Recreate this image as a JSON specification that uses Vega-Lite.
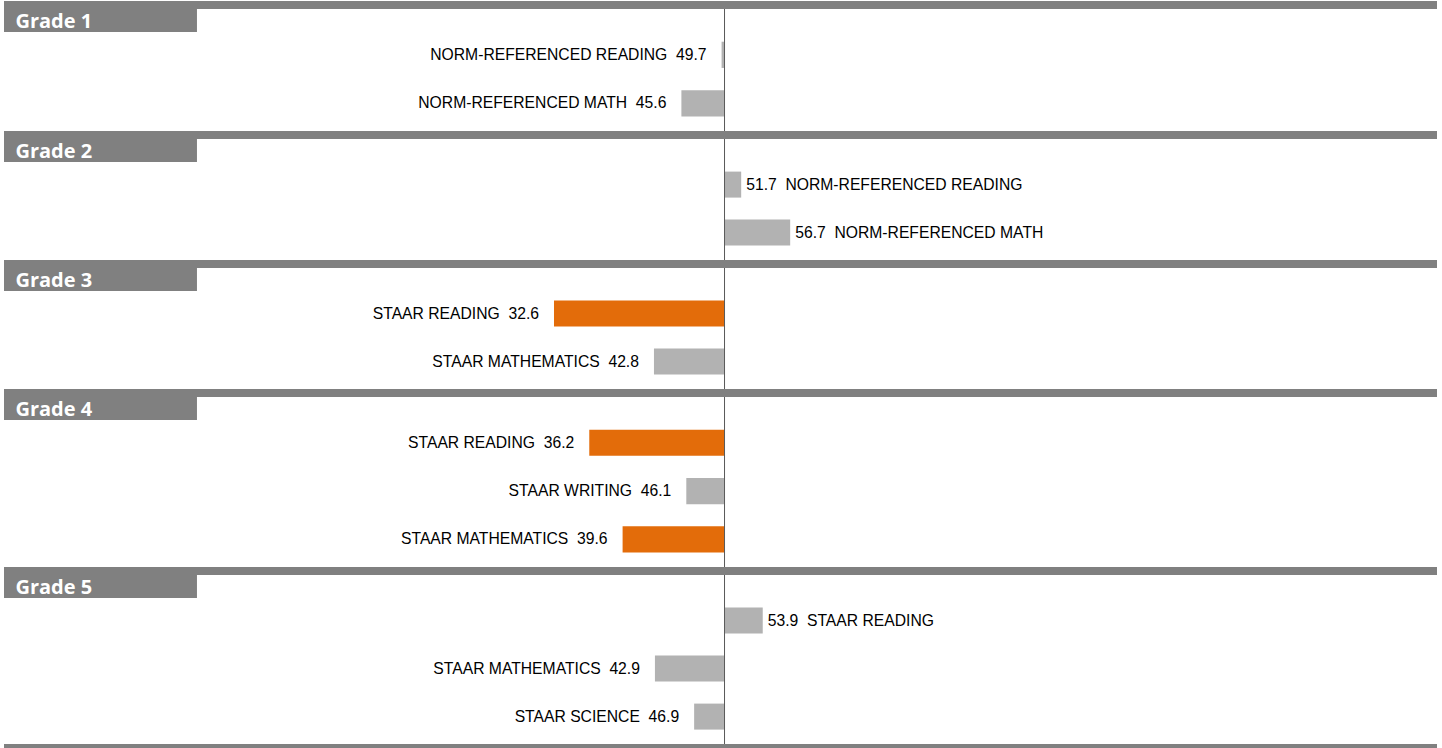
{
  "$schema": "https://vega.github.io/schema/vega-lite/v6.json",
  "background": "white",
  "padding": {"left": 4, "top": 1, "right": 0, "bottom": 0},
  "bounds": "flush",
  "spacing": 0,
  "config": {"view": {"stroke": null}},
  "datasets": {
    "grades": [
      {"grade": "Grade 1"}, {"grade": "Grade 2"}, {"grade": "Grade 3"}, {"grade": "Grade 4"}, {"grade": "Grade 5"}
    ],
    "scores": [
      {"grade": "Grade 1", "subject": "NORM-REFERENCED READING", "value": 49.7},
      {"grade": "Grade 1", "subject": "NORM-REFERENCED MATH", "value": 45.6},
      {"grade": "Grade 2", "subject": "NORM-REFERENCED READING", "value": 51.7},
      {"grade": "Grade 2", "subject": "NORM-REFERENCED MATH", "value": 56.7},
      {"grade": "Grade 3", "subject": "STAAR READING", "value": 32.6},
      {"grade": "Grade 3", "subject": "STAAR MATHEMATICS", "value": 42.8},
      {"grade": "Grade 4", "subject": "STAAR READING", "value": 36.2},
      {"grade": "Grade 4", "subject": "STAAR WRITING", "value": 46.1},
      {"grade": "Grade 4", "subject": "STAAR MATHEMATICS", "value": 39.6},
      {"grade": "Grade 5", "subject": "STAAR READING", "value": 53.9},
      {"grade": "Grade 5", "subject": "STAAR MATHEMATICS", "value": 42.9},
      {"grade": "Grade 5", "subject": "STAAR SCIENCE", "value": 46.9}
    ]
  },
  "resolve": {"scale": {"x": "independent", "y": "independent"}},
  "vconcat": [
    {"width": 1433, "height": 8, "data": {"name": "grades"}, "transform": [{"filter": "datum.grade == 'Grade 1'"}], "mark": {"type": "rect", "color": "#808080"}, "encoding": {}},
    {"width": 1433, "height": 23, "data": {"name": "grades"}, "transform": [{"filter": "datum.grade == 'Grade 1'"}],
      "layer": [
        {"mark": {"type": "rect", "color": "#808080"}, "encoding": {"x": {"datum": -23.52, "type": "quantitative", "scale": {"domain": [-23.52, 122.7], "nice": false, "zero": false}, "axis": null}, "x2": {"datum": -3.83}}},
        {"mark": {"type": "rule", "color": "#595959", "strokeWidth": 1}, "encoding": {"x": {"datum": 50, "type": "quantitative", "scale": {"domain": [-23.52, 122.7], "nice": false, "zero": false}, "axis": null}}},
        {"mark": {"type": "text", "align": "left", "baseline": "middle", "dy": 1, "font": "Open Sans", "fontWeight": "bold", "fontSize": 20, "color": "#ffffff"}, "encoding": {"x": {"datum": -22.35, "type": "quantitative", "scale": {"domain": [-23.52, 122.7], "nice": false, "zero": false}, "axis": null}, "text": {"field": "grade"}}}
      ]},
    {"width": 1433, "height": 99, "data": {"name": "scores"},
      "transform": [{"filter": "datum.grade == 'Grade 1'"},
        {"calculate": "datum.subject + '\u00a0\u00a0' + format(datum.value, '.1f')", "as": "labelL"},
        {"calculate": "format(datum.value, '.1f') + '\u00a0\u00a0' + datum.subject", "as": "labelR"}],
      "layer": [
        {"mark": {"type": "bar"}, "encoding": {
          "y": {"field": "subject", "type": "nominal", "sort": null, "axis": null, "scale": {"paddingInner": 0.4583, "paddingOuter": 0.25, "align": 0.4}},
          "x": {"field": "value", "type": "quantitative", "scale": {"domain": [-23.52, 122.7], "nice": false, "zero": false}, "axis": null},
          "x2": {"datum": 50},
          "color": {"condition": {"test": "datum.value < 40", "value": "#e36c0a"}, "value": "#b2b2b2"}}},
        {"transform": [{"filter": "datum.value < 50"}], "mark": {"type": "text", "align": "right", "baseline": "middle", "dx": -15, "font": "Liberation Sans", "fontSize": 15.7, "color": "#000000"}, "encoding": {
          "y": {"field": "subject", "type": "nominal", "sort": null, "axis": null},
          "x": {"field": "value", "type": "quantitative", "scale": {"domain": [-23.52, 122.7], "nice": false, "zero": false}, "axis": null},
          "text": {"field": "labelL"}}},
        {"transform": [{"filter": "datum.value >= 50"}], "mark": {"type": "text", "align": "left", "baseline": "middle", "dx": 5, "font": "Liberation Sans", "fontSize": 15.7, "color": "#000000"}, "encoding": {
          "y": {"field": "subject", "type": "nominal", "sort": null, "axis": null},
          "x": {"field": "value", "type": "quantitative", "scale": {"domain": [-23.52, 122.7], "nice": false, "zero": false}, "axis": null},
          "text": {"field": "labelR"}}},
        {"data": {"name": "grades"}, "transform": [{"filter": "datum.grade == 'Grade 1'"}], "mark": {"type": "rule", "color": "#595959", "strokeWidth": 1}, "encoding": {"x": {"datum": 50, "type": "quantitative", "scale": {"domain": [-23.52, 122.7], "nice": false, "zero": false}, "axis": null}}}
      ]},

    {"width": 1433, "height": 8, "data": {"name": "grades"}, "transform": [{"filter": "datum.grade == 'Grade 2'"}], "mark": {"type": "rect", "color": "#808080"}, "encoding": {}},
    {"width": 1433, "height": 23, "data": {"name": "grades"}, "transform": [{"filter": "datum.grade == 'Grade 2'"}],
      "layer": [
        {"mark": {"type": "rect", "color": "#808080"}, "encoding": {"x": {"datum": -23.52, "type": "quantitative", "scale": {"domain": [-23.52, 122.7], "nice": false, "zero": false}, "axis": null}, "x2": {"datum": -3.83}}},
        {"mark": {"type": "rule", "color": "#595959", "strokeWidth": 1}, "encoding": {"x": {"datum": 50, "type": "quantitative", "scale": {"domain": [-23.52, 122.7], "nice": false, "zero": false}, "axis": null}}},
        {"mark": {"type": "text", "align": "left", "baseline": "middle", "dy": 1, "font": "Open Sans", "fontWeight": "bold", "fontSize": 20, "color": "#ffffff"}, "encoding": {"x": {"datum": -22.35, "type": "quantitative", "scale": {"domain": [-23.52, 122.7], "nice": false, "zero": false}, "axis": null}, "text": {"field": "grade"}}}
      ]},
    {"width": 1433, "height": 98, "data": {"name": "scores"},
      "transform": [{"filter": "datum.grade == 'Grade 2'"},
        {"calculate": "datum.subject + '\u00a0\u00a0' + format(datum.value, '.1f')", "as": "labelL"},
        {"calculate": "format(datum.value, '.1f') + '\u00a0\u00a0' + datum.subject", "as": "labelR"}],
      "layer": [
        {"mark": {"type": "bar"}, "encoding": {
          "y": {"field": "subject", "type": "nominal", "sort": null, "axis": null, "scale": {"paddingInner": 0.4583, "paddingOuter": 0.25, "align": 0.4}},
          "x": {"field": "value", "type": "quantitative", "scale": {"domain": [-23.52, 122.7], "nice": false, "zero": false}, "axis": null},
          "x2": {"datum": 50},
          "color": {"condition": {"test": "datum.value < 40", "value": "#e36c0a"}, "value": "#b2b2b2"}}},
        {"transform": [{"filter": "datum.value < 50"}], "mark": {"type": "text", "align": "right", "baseline": "middle", "dx": -15, "font": "Liberation Sans", "fontSize": 15.7, "color": "#000000"}, "encoding": {
          "y": {"field": "subject", "type": "nominal", "sort": null, "axis": null},
          "x": {"field": "value", "type": "quantitative", "scale": {"domain": [-23.52, 122.7], "nice": false, "zero": false}, "axis": null},
          "text": {"field": "labelL"}}},
        {"transform": [{"filter": "datum.value >= 50"}], "mark": {"type": "text", "align": "left", "baseline": "middle", "dx": 5, "font": "Liberation Sans", "fontSize": 15.7, "color": "#000000"}, "encoding": {
          "y": {"field": "subject", "type": "nominal", "sort": null, "axis": null},
          "x": {"field": "value", "type": "quantitative", "scale": {"domain": [-23.52, 122.7], "nice": false, "zero": false}, "axis": null},
          "text": {"field": "labelR"}}},
        {"data": {"name": "grades"}, "transform": [{"filter": "datum.grade == 'Grade 2'"}], "mark": {"type": "rule", "color": "#595959", "strokeWidth": 1}, "encoding": {"x": {"datum": 50, "type": "quantitative", "scale": {"domain": [-23.52, 122.7], "nice": false, "zero": false}, "axis": null}}}
      ]},

    {"width": 1433, "height": 8, "data": {"name": "grades"}, "transform": [{"filter": "datum.grade == 'Grade 3'"}], "mark": {"type": "rect", "color": "#808080"}, "encoding": {}},
    {"width": 1433, "height": 23, "data": {"name": "grades"}, "transform": [{"filter": "datum.grade == 'Grade 3'"}],
      "layer": [
        {"mark": {"type": "rect", "color": "#808080"}, "encoding": {"x": {"datum": -23.52, "type": "quantitative", "scale": {"domain": [-23.52, 122.7], "nice": false, "zero": false}, "axis": null}, "x2": {"datum": -3.83}}},
        {"mark": {"type": "rule", "color": "#595959", "strokeWidth": 1}, "encoding": {"x": {"datum": 50, "type": "quantitative", "scale": {"domain": [-23.52, 122.7], "nice": false, "zero": false}, "axis": null}}},
        {"mark": {"type": "text", "align": "left", "baseline": "middle", "dy": 1, "font": "Open Sans", "fontWeight": "bold", "fontSize": 20, "color": "#ffffff"}, "encoding": {"x": {"datum": -22.35, "type": "quantitative", "scale": {"domain": [-23.52, 122.7], "nice": false, "zero": false}, "axis": null}, "text": {"field": "grade"}}}
      ]},
    {"width": 1433, "height": 98, "data": {"name": "scores"},
      "transform": [{"filter": "datum.grade == 'Grade 3'"},
        {"calculate": "datum.subject + '\u00a0\u00a0' + format(datum.value, '.1f')", "as": "labelL"},
        {"calculate": "format(datum.value, '.1f') + '\u00a0\u00a0' + datum.subject", "as": "labelR"}],
      "layer": [
        {"mark": {"type": "bar"}, "encoding": {
          "y": {"field": "subject", "type": "nominal", "sort": null, "axis": null, "scale": {"paddingInner": 0.4583, "paddingOuter": 0.25, "align": 0.4}},
          "x": {"field": "value", "type": "quantitative", "scale": {"domain": [-23.52, 122.7], "nice": false, "zero": false}, "axis": null},
          "x2": {"datum": 50},
          "color": {"condition": {"test": "datum.value < 40", "value": "#e36c0a"}, "value": "#b2b2b2"}}},
        {"transform": [{"filter": "datum.value < 50"}], "mark": {"type": "text", "align": "right", "baseline": "middle", "dx": -15, "font": "Liberation Sans", "fontSize": 15.7, "color": "#000000"}, "encoding": {
          "y": {"field": "subject", "type": "nominal", "sort": null, "axis": null},
          "x": {"field": "value", "type": "quantitative", "scale": {"domain": [-23.52, 122.7], "nice": false, "zero": false}, "axis": null},
          "text": {"field": "labelL"}}},
        {"transform": [{"filter": "datum.value >= 50"}], "mark": {"type": "text", "align": "left", "baseline": "middle", "dx": 5, "font": "Liberation Sans", "fontSize": 15.7, "color": "#000000"}, "encoding": {
          "y": {"field": "subject", "type": "nominal", "sort": null, "axis": null},
          "x": {"field": "value", "type": "quantitative", "scale": {"domain": [-23.52, 122.7], "nice": false, "zero": false}, "axis": null},
          "text": {"field": "labelR"}}},
        {"data": {"name": "grades"}, "transform": [{"filter": "datum.grade == 'Grade 3'"}], "mark": {"type": "rule", "color": "#595959", "strokeWidth": 1}, "encoding": {"x": {"datum": 50, "type": "quantitative", "scale": {"domain": [-23.52, 122.7], "nice": false, "zero": false}, "axis": null}}}
      ]},

    {"width": 1433, "height": 8, "data": {"name": "grades"}, "transform": [{"filter": "datum.grade == 'Grade 4'"}], "mark": {"type": "rect", "color": "#808080"}, "encoding": {}},
    {"width": 1433, "height": 23, "data": {"name": "grades"}, "transform": [{"filter": "datum.grade == 'Grade 4'"}],
      "layer": [
        {"mark": {"type": "rect", "color": "#808080"}, "encoding": {"x": {"datum": -23.52, "type": "quantitative", "scale": {"domain": [-23.52, 122.7], "nice": false, "zero": false}, "axis": null}, "x2": {"datum": -3.83}}},
        {"mark": {"type": "rule", "color": "#595959", "strokeWidth": 1}, "encoding": {"x": {"datum": 50, "type": "quantitative", "scale": {"domain": [-23.52, 122.7], "nice": false, "zero": false}, "axis": null}}},
        {"mark": {"type": "text", "align": "left", "baseline": "middle", "dy": 1, "font": "Open Sans", "fontWeight": "bold", "fontSize": 20, "color": "#ffffff"}, "encoding": {"x": {"datum": -22.35, "type": "quantitative", "scale": {"domain": [-23.52, 122.7], "nice": false, "zero": false}, "axis": null}, "text": {"field": "grade"}}}
      ]},
    {"width": 1433, "height": 147, "data": {"name": "scores"},
      "transform": [{"filter": "datum.grade == 'Grade 4'"},
        {"calculate": "datum.subject + '\u00a0\u00a0' + format(datum.value, '.1f')", "as": "labelL"},
        {"calculate": "format(datum.value, '.1f') + '\u00a0\u00a0' + datum.subject", "as": "labelR"}],
      "layer": [
        {"mark": {"type": "bar"}, "encoding": {
          "y": {"field": "subject", "type": "nominal", "sort": null, "axis": null, "scale": {"paddingInner": 0.4583, "paddingOuter": 0.25, "align": 0.4}},
          "x": {"field": "value", "type": "quantitative", "scale": {"domain": [-23.52, 122.7], "nice": false, "zero": false}, "axis": null},
          "x2": {"datum": 50},
          "color": {"condition": {"test": "datum.value < 40", "value": "#e36c0a"}, "value": "#b2b2b2"}}},
        {"transform": [{"filter": "datum.value < 50"}], "mark": {"type": "text", "align": "right", "baseline": "middle", "dx": -15, "font": "Liberation Sans", "fontSize": 15.7, "color": "#000000"}, "encoding": {
          "y": {"field": "subject", "type": "nominal", "sort": null, "axis": null},
          "x": {"field": "value", "type": "quantitative", "scale": {"domain": [-23.52, 122.7], "nice": false, "zero": false}, "axis": null},
          "text": {"field": "labelL"}}},
        {"transform": [{"filter": "datum.value >= 50"}], "mark": {"type": "text", "align": "left", "baseline": "middle", "dx": 5, "font": "Liberation Sans", "fontSize": 15.7, "color": "#000000"}, "encoding": {
          "y": {"field": "subject", "type": "nominal", "sort": null, "axis": null},
          "x": {"field": "value", "type": "quantitative", "scale": {"domain": [-23.52, 122.7], "nice": false, "zero": false}, "axis": null},
          "text": {"field": "labelR"}}},
        {"data": {"name": "grades"}, "transform": [{"filter": "datum.grade == 'Grade 4'"}], "mark": {"type": "rule", "color": "#595959", "strokeWidth": 1}, "encoding": {"x": {"datum": 50, "type": "quantitative", "scale": {"domain": [-23.52, 122.7], "nice": false, "zero": false}, "axis": null}}}
      ]},

    {"width": 1433, "height": 8, "data": {"name": "grades"}, "transform": [{"filter": "datum.grade == 'Grade 5'"}], "mark": {"type": "rect", "color": "#808080"}, "encoding": {}},
    {"width": 1433, "height": 23, "data": {"name": "grades"}, "transform": [{"filter": "datum.grade == 'Grade 5'"}],
      "layer": [
        {"mark": {"type": "rect", "color": "#808080"}, "encoding": {"x": {"datum": -23.52, "type": "quantitative", "scale": {"domain": [-23.52, 122.7], "nice": false, "zero": false}, "axis": null}, "x2": {"datum": -3.83}}},
        {"mark": {"type": "rule", "color": "#595959", "strokeWidth": 1}, "encoding": {"x": {"datum": 50, "type": "quantitative", "scale": {"domain": [-23.52, 122.7], "nice": false, "zero": false}, "axis": null}}},
        {"mark": {"type": "text", "align": "left", "baseline": "middle", "dy": 1, "font": "Open Sans", "fontWeight": "bold", "fontSize": 20, "color": "#ffffff"}, "encoding": {"x": {"datum": -22.35, "type": "quantitative", "scale": {"domain": [-23.52, 122.7], "nice": false, "zero": false}, "axis": null}, "text": {"field": "grade"}}}
      ]},
    {"width": 1433, "height": 146, "data": {"name": "scores"},
      "transform": [{"filter": "datum.grade == 'Grade 5'"},
        {"calculate": "datum.subject + '\u00a0\u00a0' + format(datum.value, '.1f')", "as": "labelL"},
        {"calculate": "format(datum.value, '.1f') + '\u00a0\u00a0' + datum.subject", "as": "labelR"}],
      "layer": [
        {"mark": {"type": "bar"}, "encoding": {
          "y": {"field": "subject", "type": "nominal", "sort": null, "axis": null, "scale": {"paddingInner": 0.4583, "paddingOuter": 0.25, "align": 0.4}},
          "x": {"field": "value", "type": "quantitative", "scale": {"domain": [-23.52, 122.7], "nice": false, "zero": false}, "axis": null},
          "x2": {"datum": 50},
          "color": {"condition": {"test": "datum.value < 40", "value": "#e36c0a"}, "value": "#b2b2b2"}}},
        {"transform": [{"filter": "datum.value < 50"}], "mark": {"type": "text", "align": "right", "baseline": "middle", "dx": -15, "font": "Liberation Sans", "fontSize": 15.7, "color": "#000000"}, "encoding": {
          "y": {"field": "subject", "type": "nominal", "sort": null, "axis": null},
          "x": {"field": "value", "type": "quantitative", "scale": {"domain": [-23.52, 122.7], "nice": false, "zero": false}, "axis": null},
          "text": {"field": "labelL"}}},
        {"transform": [{"filter": "datum.value >= 50"}], "mark": {"type": "text", "align": "left", "baseline": "middle", "dx": 5, "font": "Liberation Sans", "fontSize": 15.7, "color": "#000000"}, "encoding": {
          "y": {"field": "subject", "type": "nominal", "sort": null, "axis": null},
          "x": {"field": "value", "type": "quantitative", "scale": {"domain": [-23.52, 122.7], "nice": false, "zero": false}, "axis": null},
          "text": {"field": "labelR"}}},
        {"data": {"name": "grades"}, "transform": [{"filter": "datum.grade == 'Grade 5'"}], "mark": {"type": "rule", "color": "#595959", "strokeWidth": 1}, "encoding": {"x": {"datum": 50, "type": "quantitative", "scale": {"domain": [-23.52, 122.7], "nice": false, "zero": false}, "axis": null}}}
      ]},

    {"width": 1433, "height": 8, "data": {"name": "grades"}, "transform": [{"filter": "datum.grade == 'Grade 5'"}], "mark": {"type": "rect", "color": "#808080"}, "encoding": {}}
  ]
}
